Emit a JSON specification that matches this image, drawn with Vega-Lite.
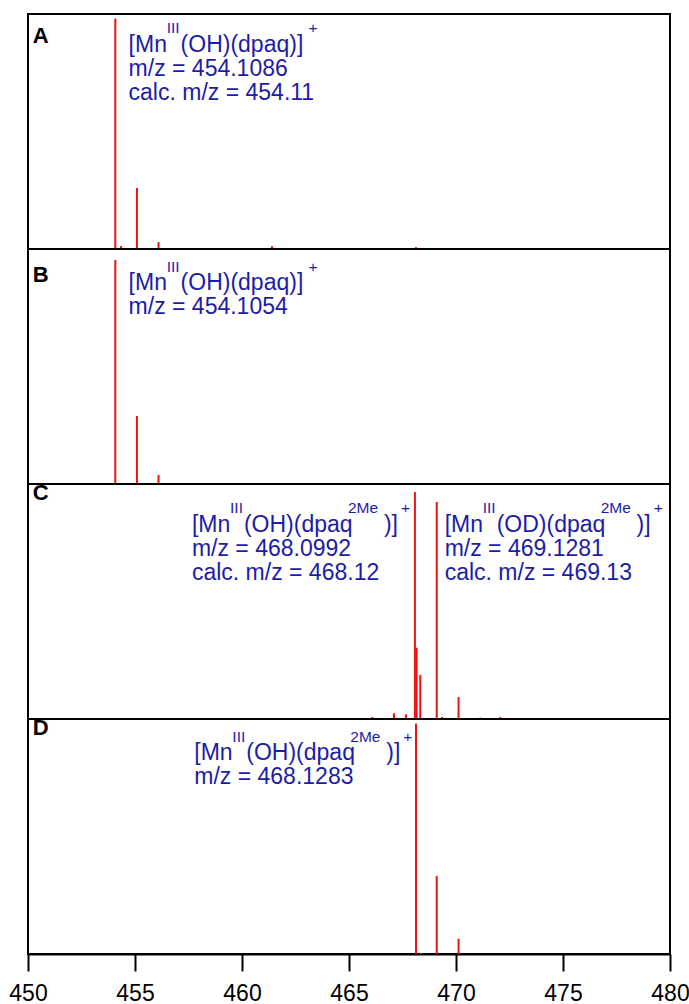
{
  "$schema": "https://vega.github.io/schema/vega-lite/v6.json",
  "padding": {"left": 8, "top": 13, "right": 0, "bottom": 0},
  "background": "white",
  "bounds": "flush",
  "config": {
    "view": {"stroke": "#000000", "strokeWidth": 2},
    "font": "Liberation Sans",
    "axis": {
      "domainColor": "#000000", "domainWidth": 2,
      "tickColor": "#000000", "tickWidth": 2, "tickSize": 17,
      "labelFontSize": 23, "labelColor": "#000000", "labelFont": "Liberation Sans",
      "labelPadding": 11, "labelFlush": false, "labelOverlap": false,
      "grid": false, "title": null
    }
  },
  "data": {"values": [
    {"panel": "A", "kind": "peak", "mz": 454.08, "intensity": 1.0},
    {"panel": "A", "kind": "peak", "mz": 454.35, "intensity": 0.013},
    {"panel": "A", "kind": "peak", "mz": 455.09, "intensity": 0.265},
    {"panel": "A", "kind": "peak", "mz": 456.1, "intensity": 0.03},
    {"panel": "A", "kind": "peak", "mz": 461.4, "intensity": 0.012},
    {"panel": "A", "kind": "peak", "mz": 468.13, "intensity": 0.008},
    {"panel": "B", "kind": "peak", "mz": 454.08, "intensity": 0.972},
    {"panel": "B", "kind": "peak", "mz": 455.09, "intensity": 0.295},
    {"panel": "B", "kind": "peak", "mz": 456.1, "intensity": 0.039},
    {"panel": "C", "kind": "peak", "mz": 460.1, "intensity": 0.004},
    {"panel": "C", "kind": "peak", "mz": 466.09, "intensity": 0.009},
    {"panel": "C", "kind": "peak", "mz": 467.1, "intensity": 0.025},
    {"panel": "C", "kind": "peak", "mz": 467.2, "intensity": 0.005},
    {"panel": "C", "kind": "peak", "mz": 467.66, "intensity": 0.02},
    {"panel": "C", "kind": "peak", "mz": 468.08, "intensity": 0.985},
    {"panel": "C", "kind": "peak", "mz": 468.16, "intensity": 0.309},
    {"panel": "C", "kind": "peak", "mz": 468.33, "intensity": 0.191},
    {"panel": "C", "kind": "peak", "mz": 469.1, "intensity": 0.942},
    {"panel": "C", "kind": "peak", "mz": 469.35, "intensity": 0.009},
    {"panel": "C", "kind": "peak", "mz": 470.12, "intensity": 0.095},
    {"panel": "C", "kind": "peak", "mz": 471.14, "intensity": 0.006},
    {"panel": "C", "kind": "peak", "mz": 472.07, "intensity": 0.009},
    {"panel": "D", "kind": "peak", "mz": 468.13, "intensity": 1.0},
    {"panel": "D", "kind": "peak", "mz": 468.36, "intensity": 0.004},
    {"panel": "D", "kind": "peak", "mz": 469.1, "intensity": 0.339},
    {"panel": "D", "kind": "peak", "mz": 470.12, "intensity": 0.066},

    {"panel": "A", "kind": "letter", "mz": 450.22, "ly": 0.895, "text": "A"},
    {"panel": "B", "kind": "letter", "mz": 450.22, "ly": 0.877, "text": "B"},
    {"panel": "C", "kind": "letter", "mz": 450.22, "ly": 0.95, "text": "C"},
    {"panel": "D", "kind": "letter", "mz": 450.22, "ly": 0.95, "text": "D"},

    {"panel": "A", "kind": "main", "mz": 454.7, "ly": 0.856, "text": "[Mn"},
    {"panel": "A", "kind": "sup", "mz": 456.48, "ly": 0.936, "text": "III"},
    {"panel": "A", "kind": "main", "mz": 457.13, "ly": 0.856, "text": "(OH)(dpaq)]"},
    {"panel": "A", "kind": "sup", "mz": 463.11, "ly": 0.936, "text": "+"},
    {"panel": "A", "kind": "main", "mz": 454.7, "ly": 0.752, "text": "m/z = 454.1086"},
    {"panel": "A", "kind": "main", "mz": 454.7, "ly": 0.648, "text": "calc. m/z = 454.11"},

    {"panel": "B", "kind": "main", "mz": 454.7, "ly": 0.84, "text": "[Mn"},
    {"panel": "B", "kind": "sup", "mz": 456.48, "ly": 0.92, "text": "III"},
    {"panel": "B", "kind": "main", "mz": 457.13, "ly": 0.84, "text": "(OH)(dpaq)]"},
    {"panel": "B", "kind": "sup", "mz": 463.11, "ly": 0.92, "text": "+"},
    {"panel": "B", "kind": "main", "mz": 454.7, "ly": 0.738, "text": "m/z = 454.1054"},

    {"panel": "C", "kind": "main", "mz": 457.66, "ly": 0.813, "text": "[Mn"},
    {"panel": "C", "kind": "sup", "mz": 459.44, "ly": 0.893, "text": "III"},
    {"panel": "C", "kind": "main", "mz": 460.09, "ly": 0.813, "text": "(OH)(dpaq"},
    {"panel": "C", "kind": "sup", "mz": 464.95, "ly": 0.893, "text": "2Me"},
    {"panel": "C", "kind": "main", "mz": 466.63, "ly": 0.813, "text": ")]"},
    {"panel": "C", "kind": "sup", "mz": 467.43, "ly": 0.893, "text": "+"},
    {"panel": "C", "kind": "main", "mz": 457.66, "ly": 0.709, "text": "m/z = 468.0992"},
    {"panel": "C", "kind": "main", "mz": 457.66, "ly": 0.605, "text": "calc. m/z = 468.12"},

    {"panel": "C", "kind": "main", "mz": 469.47, "ly": 0.813, "text": "[Mn"},
    {"panel": "C", "kind": "sup", "mz": 471.25, "ly": 0.893, "text": "III"},
    {"panel": "C", "kind": "main", "mz": 471.9, "ly": 0.813, "text": "(OD)(dpaq"},
    {"panel": "C", "kind": "sup", "mz": 476.76, "ly": 0.893, "text": "2Me"},
    {"panel": "C", "kind": "main", "mz": 478.44, "ly": 0.813, "text": ")]"},
    {"panel": "C", "kind": "sup", "mz": 479.24, "ly": 0.893, "text": "+"},
    {"panel": "C", "kind": "main", "mz": 469.47, "ly": 0.709, "text": "m/z = 469.1281"},
    {"panel": "C", "kind": "main", "mz": 469.47, "ly": 0.605, "text": "calc. m/z = 469.13"},

    {"panel": "D", "kind": "main", "mz": 457.77, "ly": 0.84, "text": "[Mn"},
    {"panel": "D", "kind": "sup", "mz": 459.55, "ly": 0.92, "text": "III"},
    {"panel": "D", "kind": "main", "mz": 460.2, "ly": 0.84, "text": "(OH)(dpaq"},
    {"panel": "D", "kind": "sup", "mz": 465.06, "ly": 0.92, "text": "2Me"},
    {"panel": "D", "kind": "main", "mz": 466.74, "ly": 0.84, "text": ")]"},
    {"panel": "D", "kind": "sup", "mz": 467.54, "ly": 0.92, "text": "+"},
    {"panel": "D", "kind": "main", "mz": 457.77, "ly": 0.736, "text": "m/z = 468.1283"}
  ]},
  "facet": {"row": {"field": "panel", "type": "nominal", "header": null}},
  "spacing": 0,
  "spec": {
    "width": 642,
    "height": 235,
    "layer": [
      {
        "transform": [{"filter": "datum.kind === 'peak'"}],
        "mark": {"type": "rule", "color": "#ee1111", "strokeWidth": 2},
        "encoding": {
          "x": {"field": "mz", "type": "quantitative",
                "scale": {"domain": [450, 480], "nice": false, "zero": false},
                "axis": {"values": [450, 455, 460, 465, 470, 475, 480], "format": "d", "title": null}},
          "y": {"field": "intensity", "type": "quantitative",
                "scale": {"domain": [0, 1.02], "nice": false, "zero": true}, "axis": null},
          "y2": {"datum": 0}
        }
      },
      {
        "transform": [{"filter": "datum.kind === 'letter'"}],
        "mark": {"type": "text", "align": "left", "baseline": "alphabetic", "fontSize": 22, "fontWeight": "bold", "color": "#000000", "font": "Liberation Sans"},
        "encoding": {
          "x": {"field": "mz", "type": "quantitative"},
          "y": {"field": "ly", "type": "quantitative"},
          "text": {"field": "text"}
        }
      },
      {
        "transform": [{"filter": "datum.kind === 'main'"}],
        "mark": {"type": "text", "align": "left", "baseline": "alphabetic", "fontSize": 23, "color": "#1c1ca8", "font": "Liberation Sans"},
        "encoding": {
          "x": {"field": "mz", "type": "quantitative"},
          "y": {"field": "ly", "type": "quantitative"},
          "text": {"field": "text"}
        }
      },
      {
        "transform": [{"filter": "datum.kind === 'sup'"}],
        "mark": {"type": "text", "align": "left", "baseline": "alphabetic", "fontSize": 15.5, "color": "#1c1ca8", "font": "Liberation Sans"},
        "encoding": {
          "x": {"field": "mz", "type": "quantitative"},
          "y": {"field": "ly", "type": "quantitative"},
          "text": {"field": "text"}
        }
      }
    ]
  }
}
